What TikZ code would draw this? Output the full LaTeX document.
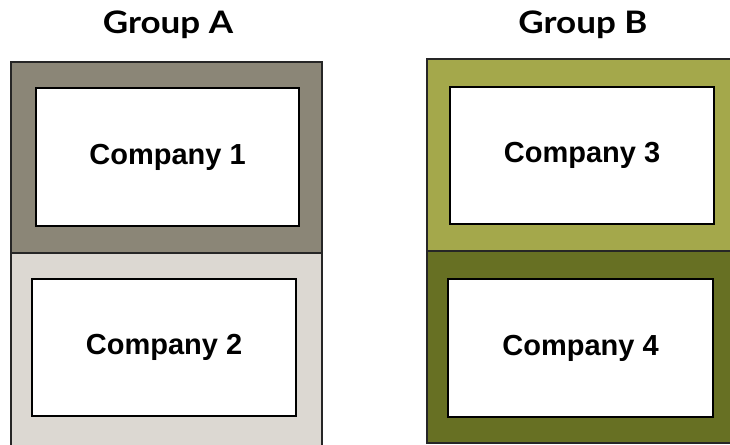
\documentclass[tikz,border=0pt]{standalone}
\usepackage{fontspec}
\setmainfont{Liberation Sans}
\newfontfamily\titlefont{Lato}[FakeStretch=1.13]

\definecolor{taupe}{HTML}{8B8677}
\definecolor{stone}{HTML}{DCD8D2}
\definecolor{olive}{HTML}{A4A84B}
\definecolor{darkolive}{HTML}{677023}

\tikzset{
	band/.style={draw=black!85, line width=1.3pt, inner sep=0pt},
	company/.style={draw=black, fill=white, line width=1.6pt, inner sep=0pt,
		font=\fontsize{29}{32}\selectfont\bfseries},
	grouptitle/.style={font=\titlefont\fontsize{31}{34}\selectfont\bfseries},
}

\begin{document}
\begin{tikzpicture}[x=1pt, y=-1pt]
	\clip (0,0) rectangle (730,444);
	\fill[white] (0,0) rectangle (730,444);

	% group A
	\node[grouptitle] (GA) at (168,25) {Group A};
	\node[band, fill=taupe, minimum width=311pt, minimum height=191pt] (SA1) at (166.5,157.5) {};
	\node[band, fill=stone, minimum width=311pt, minimum height=207pt] (SA2) at (166.5,356.5) {};
	\node[company, minimum width=263pt, minimum height=138pt] (C1) at (167.5,157) {Company 1};
	\node[company, minimum width=264pt, minimum height=137pt] (C2) at (164,347.5) {Company 2};

	% group B
	\node[grouptitle] (GB) at (583,25) {Group B};
	\node[band, fill=olive, minimum width=318pt, minimum height=192pt] (SB1) at (586,155) {};
	\node[band, fill=darkolive, minimum width=318pt, minimum height=192pt] (SB2) at (586,347) {};
	\node[company, minimum width=264pt, minimum height=137pt] (C3) at (582,155.5) {Company 3};
	\node[company, minimum width=265pt, minimum height=138pt] (C4) at (580.5,348) {Company 4};
\end{tikzpicture}
\end{document}
